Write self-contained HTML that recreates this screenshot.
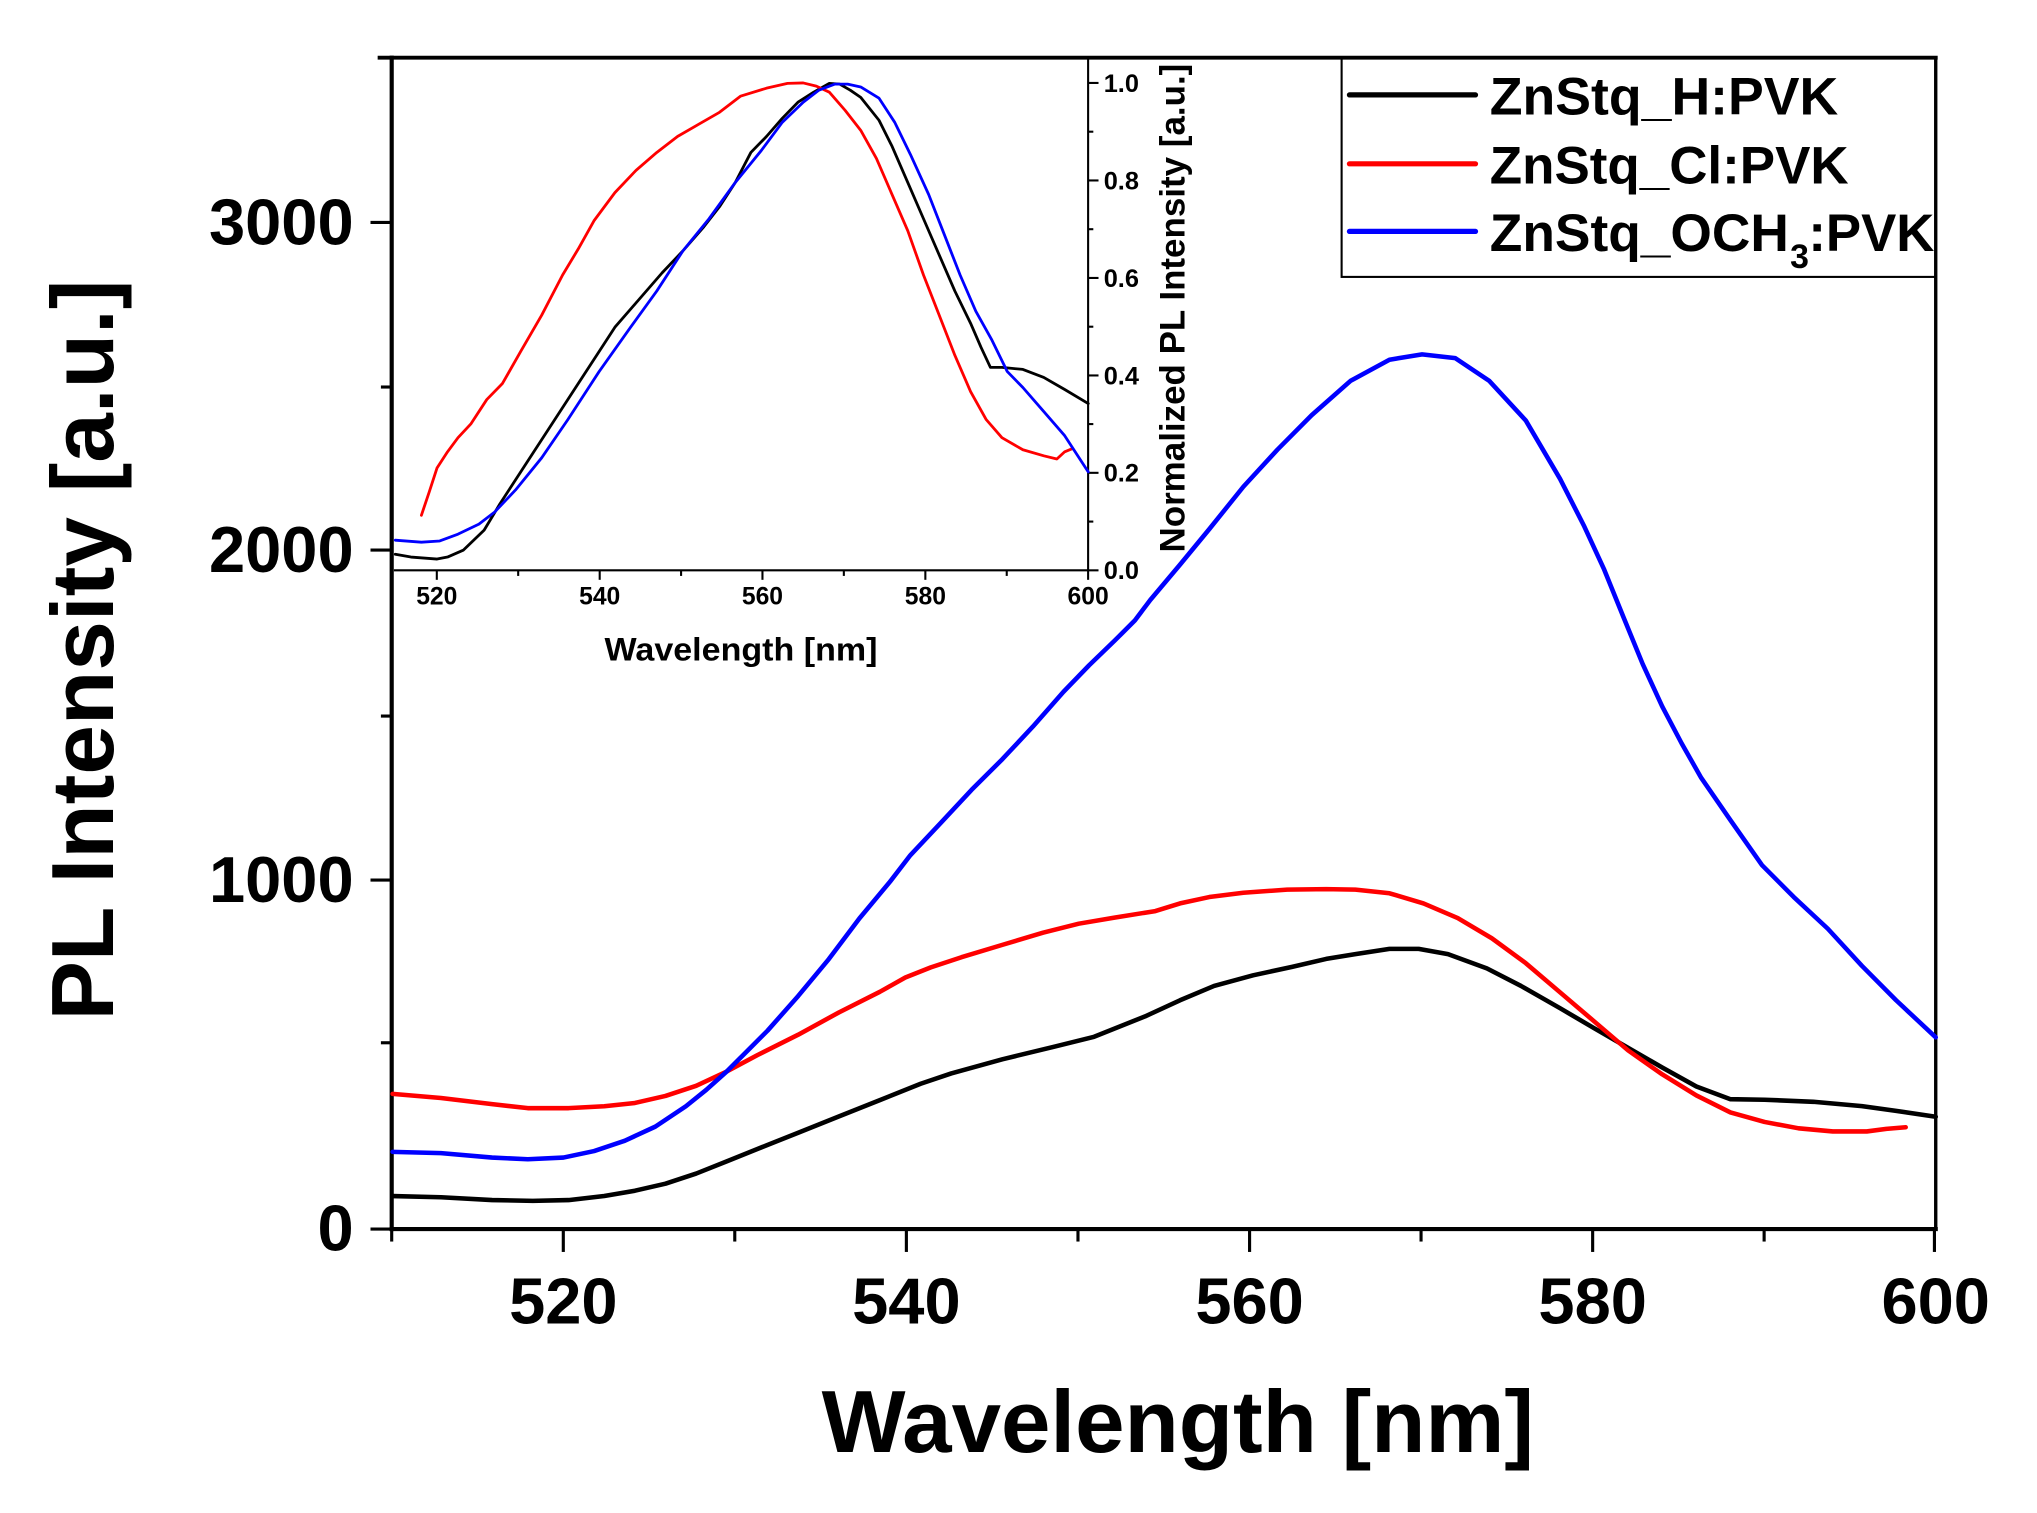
<!DOCTYPE html>
<html>
<head>
<meta charset="utf-8">
<style>
html,body{margin:0;padding:0;background:#fff;}
svg{display:block;}
text{font-family:"Liberation Sans",Arial,sans-serif;font-weight:bold;fill:#000;}
</style>
</head>
<body>
<svg width="2037" height="1513" viewBox="0 0 1566.9 1163.8" preserveAspectRatio="none" xmlns="http://www.w3.org/2000/svg">
<rect x="0" y="0" width="1566.9" height="1163.8" fill="#fff"/>

<!-- main frame -->
<g stroke="#000" fill="none" stroke-linecap="square">
  <line x1="292" y1="44.4" x2="1489" y2="44.4" stroke-width="3"/>
  <line x1="301.3" y1="44.4" x2="301.3" y2="945.4" stroke-width="3.2"/>
  <line x1="301.3" y1="945.4" x2="1489" y2="945.4" stroke-width="3.2"/>
  <line x1="1489" y1="44.4" x2="1489" y2="945.4" stroke-width="2.6"/>
</g>
<!-- main x ticks -->
<g stroke="#000" stroke-width="2.4">
  <line x1="433.3" y1="945" x2="433.3" y2="963"/>
  <line x1="697.2" y1="945" x2="697.2" y2="963"/>
  <line x1="961.2" y1="945" x2="961.2" y2="963"/>
  <line x1="1225.1" y1="945" x2="1225.1" y2="963"/>
  <line x1="1488" y1="945" x2="1488" y2="963"/>
  <line x1="301.3" y1="945" x2="301.3" y2="955"/>
  <line x1="565.2" y1="945" x2="565.2" y2="955"/>
  <line x1="829.2" y1="945" x2="829.2" y2="955"/>
  <line x1="1093.1" y1="945" x2="1093.1" y2="955"/>
  <line x1="1357" y1="945" x2="1357" y2="955"/>
</g>
<!-- main y ticks -->
<g stroke="#000" stroke-width="2.4">
  <line x1="285" y1="171.1" x2="301" y2="171.1"/>
  <line x1="285" y1="423.1" x2="301" y2="423.1"/>
  <line x1="285" y1="676.9" x2="301" y2="676.9"/>
  <line x1="285" y1="945.4" x2="301" y2="945.4"/>
  <line x1="293" y1="297.7" x2="301" y2="297.7"/>
  <line x1="293" y1="550.8" x2="301" y2="550.8"/>
  <line x1="293" y1="802.1" x2="301" y2="802.1"/>
</g>
<!-- main tick labels -->
<g font-size="50" text-anchor="middle">
  <text x="433.3" y="1018">520</text>
  <text x="697.2" y="1018">540</text>
  <text x="961.2" y="1018">560</text>
  <text x="1225.1" y="1018">580</text>
  <text x="1489" y="1018">600</text>
</g>
<g font-size="50" text-anchor="end">
  <text x="272" y="188">3000</text>
  <text x="272" y="440">2000</text>
  <text x="272" y="694">1000</text>
  <text x="272" y="962">0</text>
</g>
<!-- axis titles -->
<text x="906" y="1117" font-size="68" text-anchor="middle" textLength="548" lengthAdjust="spacingAndGlyphs">Wavelength [nm]</text>
<text transform="translate(87,500) rotate(-90)" font-size="68" text-anchor="middle" textLength="570" lengthAdjust="spacingAndGlyphs">PL Intensity [a.u.]</text>

<!-- main curves -->
<g fill="none" stroke-width="3.5" stroke-linejoin="round" stroke-linecap="round">
<polyline stroke="#000" points="302.0,920.0 339.2,920.9 378.5,923.1 409.9,923.7 437.4,923.1 464.8,920.0 488.4,915.9 511.9,910.5 535.5,902.7 559.0,893.3 582.6,883.8 614.0,871.3 645.4,858.7 676.8,846.2 708.2,833.6 731.7,825.7 771.0,814.8 810.2,805.3 841.6,797.5 880.8,781.8 907.7,769.4 933.9,758.4 963.9,750.2 993.9,743.7 1020.1,737.6 1042.6,733.9 1068.8,729.9 1091.3,729.9 1113.8,733.9 1143.7,744.9 1170.0,758.4 1200.0,775.5 1226.2,790.9 1252.4,806.0 1278.6,821.1 1304.9,835.7 1331.1,845.5 1357.3,845.9 1394.8,847.5 1432.2,850.8 1458.5,854.5 1489.0,859.0"/>
<polyline stroke="#ff0000" points="302.0,841.4 339.2,844.6 378.5,849.3 406.0,852.4 437.4,852.4 464.8,850.9 488.4,848.4 511.9,843.0 535.5,835.2 559.0,824.2 582.6,811.6 614.0,795.9 645.4,778.7 676.8,762.9 696.4,751.9 716.0,744.1 739.6,736.3 771.0,726.8 802.3,717.4 829.8,710.5 857.3,705.8 888.7,700.8 907.7,694.9 930.2,690.0 956.4,686.7 990.1,684.3 1020.1,683.9 1042.6,684.3 1068.8,687.1 1095.0,694.9 1121.3,706.2 1147.5,721.7 1173.7,740.9 1200.0,763.3 1226.2,785.6 1252.4,808.0 1278.6,826.4 1304.9,842.6 1331.1,855.7 1357.3,863.0 1383.5,867.9 1409.8,870.3 1436.0,870.3 1451.0,868.3 1465.9,867.1"/>
<polyline stroke="#0000ff" points="302.0,886.0 339.2,887.0 378.5,890.4 406.0,891.7 433.4,890.4 457.0,885.4 480.5,877.5 504.1,866.6 527.6,850.9 543.3,838.3 559.0,824.2 574.7,808.5 590.4,792.8 614.0,766.1 637.5,737.8 661.1,706.4 684.6,678.2 700.3,657.8 723.9,632.7 747.4,607.5 771.0,584.0 794.5,558.9 818.0,532.2 837.7,511.8 857.3,492.9 873.0,477.2 884.8,461.5 907.7,434.3 930.2,407.0 956.4,374.4 982.6,345.9 1008.9,319.4 1038.8,293.0 1068.8,276.7 1093.9,272.6 1119.4,275.5 1145.6,293.0 1173.7,323.5 1200.0,368.3 1218.7,405.0 1233.7,437.5 1248.6,474.2 1263.6,510.8 1278.6,543.4 1293.6,571.9 1308.6,598.3 1331.1,630.9 1355.4,665.5 1379.8,690.0 1406.0,714.4 1432.2,742.9 1458.5,769.4 1489.0,797.9"/>
</g>

<!-- inset axes -->
<g stroke="#000" stroke-width="1.6" fill="none">
  <line x1="303" y1="438.7" x2="837" y2="438.7"/>
  <line x1="837" y1="44.4" x2="837" y2="438.7"/>
  <!-- x ticks -->
  <line x1="336" y1="438.7" x2="336" y2="446"/>
  <line x1="461.3" y1="438.7" x2="461.3" y2="446"/>
  <line x1="586.5" y1="438.7" x2="586.5" y2="446"/>
  <line x1="711.8" y1="438.7" x2="711.8" y2="446"/>
  <line x1="837" y1="438.7" x2="837" y2="446"/>
  <line x1="398.6" y1="438.7" x2="398.6" y2="443"/>
  <line x1="523.9" y1="438.7" x2="523.9" y2="443"/>
  <line x1="649.1" y1="438.7" x2="649.1" y2="443"/>
  <line x1="774.4" y1="438.7" x2="774.4" y2="443"/>
  <!-- y ticks -->
  <line x1="837" y1="438.7" x2="845" y2="438.7"/>
  <line x1="837" y1="363.7" x2="845" y2="363.7"/>
  <line x1="837" y1="288.8" x2="845" y2="288.8"/>
  <line x1="837" y1="213.8" x2="845" y2="213.8"/>
  <line x1="837" y1="138.8" x2="845" y2="138.8"/>
  <line x1="837" y1="63.8" x2="845" y2="63.8"/>
  <line x1="837" y1="401.2" x2="841" y2="401.2"/>
  <line x1="837" y1="326.2" x2="841" y2="326.2"/>
  <line x1="837" y1="251.3" x2="841" y2="251.3"/>
  <line x1="837" y1="176.3" x2="841" y2="176.3"/>
  <line x1="837" y1="101.3" x2="841" y2="101.3"/>
</g>
<g font-size="19" text-anchor="middle">
  <text x="336" y="465">520</text>
  <text x="461.3" y="465">540</text>
  <text x="586.5" y="465">560</text>
  <text x="711.8" y="465">580</text>
  <text x="837" y="465">600</text>
</g>
<g font-size="19.5">
  <text x="849" y="445.5">0.0</text>
  <text x="849" y="370.5">0.2</text>
  <text x="849" y="295.6">0.4</text>
  <text x="849" y="220.6">0.6</text>
  <text x="849" y="145.6">0.8</text>
  <text x="849" y="70.6">1.0</text>
</g>
<text x="570" y="508" font-size="25" text-anchor="middle" textLength="210" lengthAdjust="spacingAndGlyphs">Wavelength [nm]</text>
<text transform="translate(911,237) rotate(-90)" font-size="27" text-anchor="middle" textLength="376" lengthAdjust="spacingAndGlyphs">Normalized PL Intensity [a.u.]</text>

<!-- inset curves (in zoomed display coords) -->
<g transform="translate(300,38.46) scale(0.40232,0.30905)" fill="none" stroke-linejoin="round" stroke-linecap="round">
<polyline vector-effect="non-scaling-stroke" stroke-width="2.8" stroke="#000" points="10,1255 40,1262 90,1267 110,1262 140,1245 180,1195 210,1130 240,1070 270,1010 310,930 350,850 400,750 430,690 470,630 520,555 560,500 600,440 630,390 660,330 690,255 720,215 750,170 780,130 810,105 840,83 860,85 880,100 900,118 935,175 960,240 990,330 1020,420 1050,510 1080,600 1110,680 1130,740 1148,790 1170,790 1210,795 1250,815 1290,845 1335,880"/>
<polyline vector-effect="non-scaling-stroke" stroke-width="2.8" stroke="#ff0000" points="60,1158 75,1100 90,1040 110,1000 130,965 155,930 185,870 215,830 250,750 290,660 330,560 360,495 390,425 430,355 470,300 510,255 550,215 590,185 630,155 670,115 720,95 760,83 790,82 815,90 840,105 870,150 900,200 930,270 960,360 990,450 1020,560 1050,660 1080,760 1110,850 1140,920 1170,965 1210,995 1250,1010 1275,1018 1290,1000 1305,992"/>
<polyline vector-effect="non-scaling-stroke" stroke-width="2.8" stroke="#0000ff" points="10,1220 60,1225 95,1222 130,1205 170,1180 200,1150 240,1095 290,1015 340,920 400,800 460,690 510,600 560,500 610,420 660,330 710,250 750,180 790,130 820,100 850,85 875,85 900,92 935,120 965,180 995,260 1030,360 1060,460 1090,560 1120,650 1150,720 1180,800 1210,840 1250,900 1290,960 1335,1050"/>
</g>

<!-- legend -->
<rect x="1032" y="44.4" width="457" height="168.6" fill="none" stroke="#000" stroke-width="1.6"/>
<g stroke-width="4" stroke-linecap="round">
  <line x1="1038" y1="73" x2="1135" y2="73" stroke="#000"/>
  <line x1="1038" y1="126" x2="1135" y2="126" stroke="#ff0000"/>
  <line x1="1038" y1="178" x2="1135" y2="178" stroke="#0000ff"/>
</g>
<g font-size="41">
  <text x="1146" y="88" textLength="268" lengthAdjust="spacingAndGlyphs">ZnStq_H:PVK</text>
  <text x="1146" y="141" textLength="276" lengthAdjust="spacingAndGlyphs">ZnStq_Cl:PVK</text>
  <text x="1146" y="193" textLength="230" lengthAdjust="spacingAndGlyphs">ZnStq_OCH</text>
  <text x="1377" y="206" font-size="26">3</text>
  <text x="1391" y="193" textLength="97" lengthAdjust="spacingAndGlyphs">:PVK</text>
</g>
</svg>
</body>
</html>
